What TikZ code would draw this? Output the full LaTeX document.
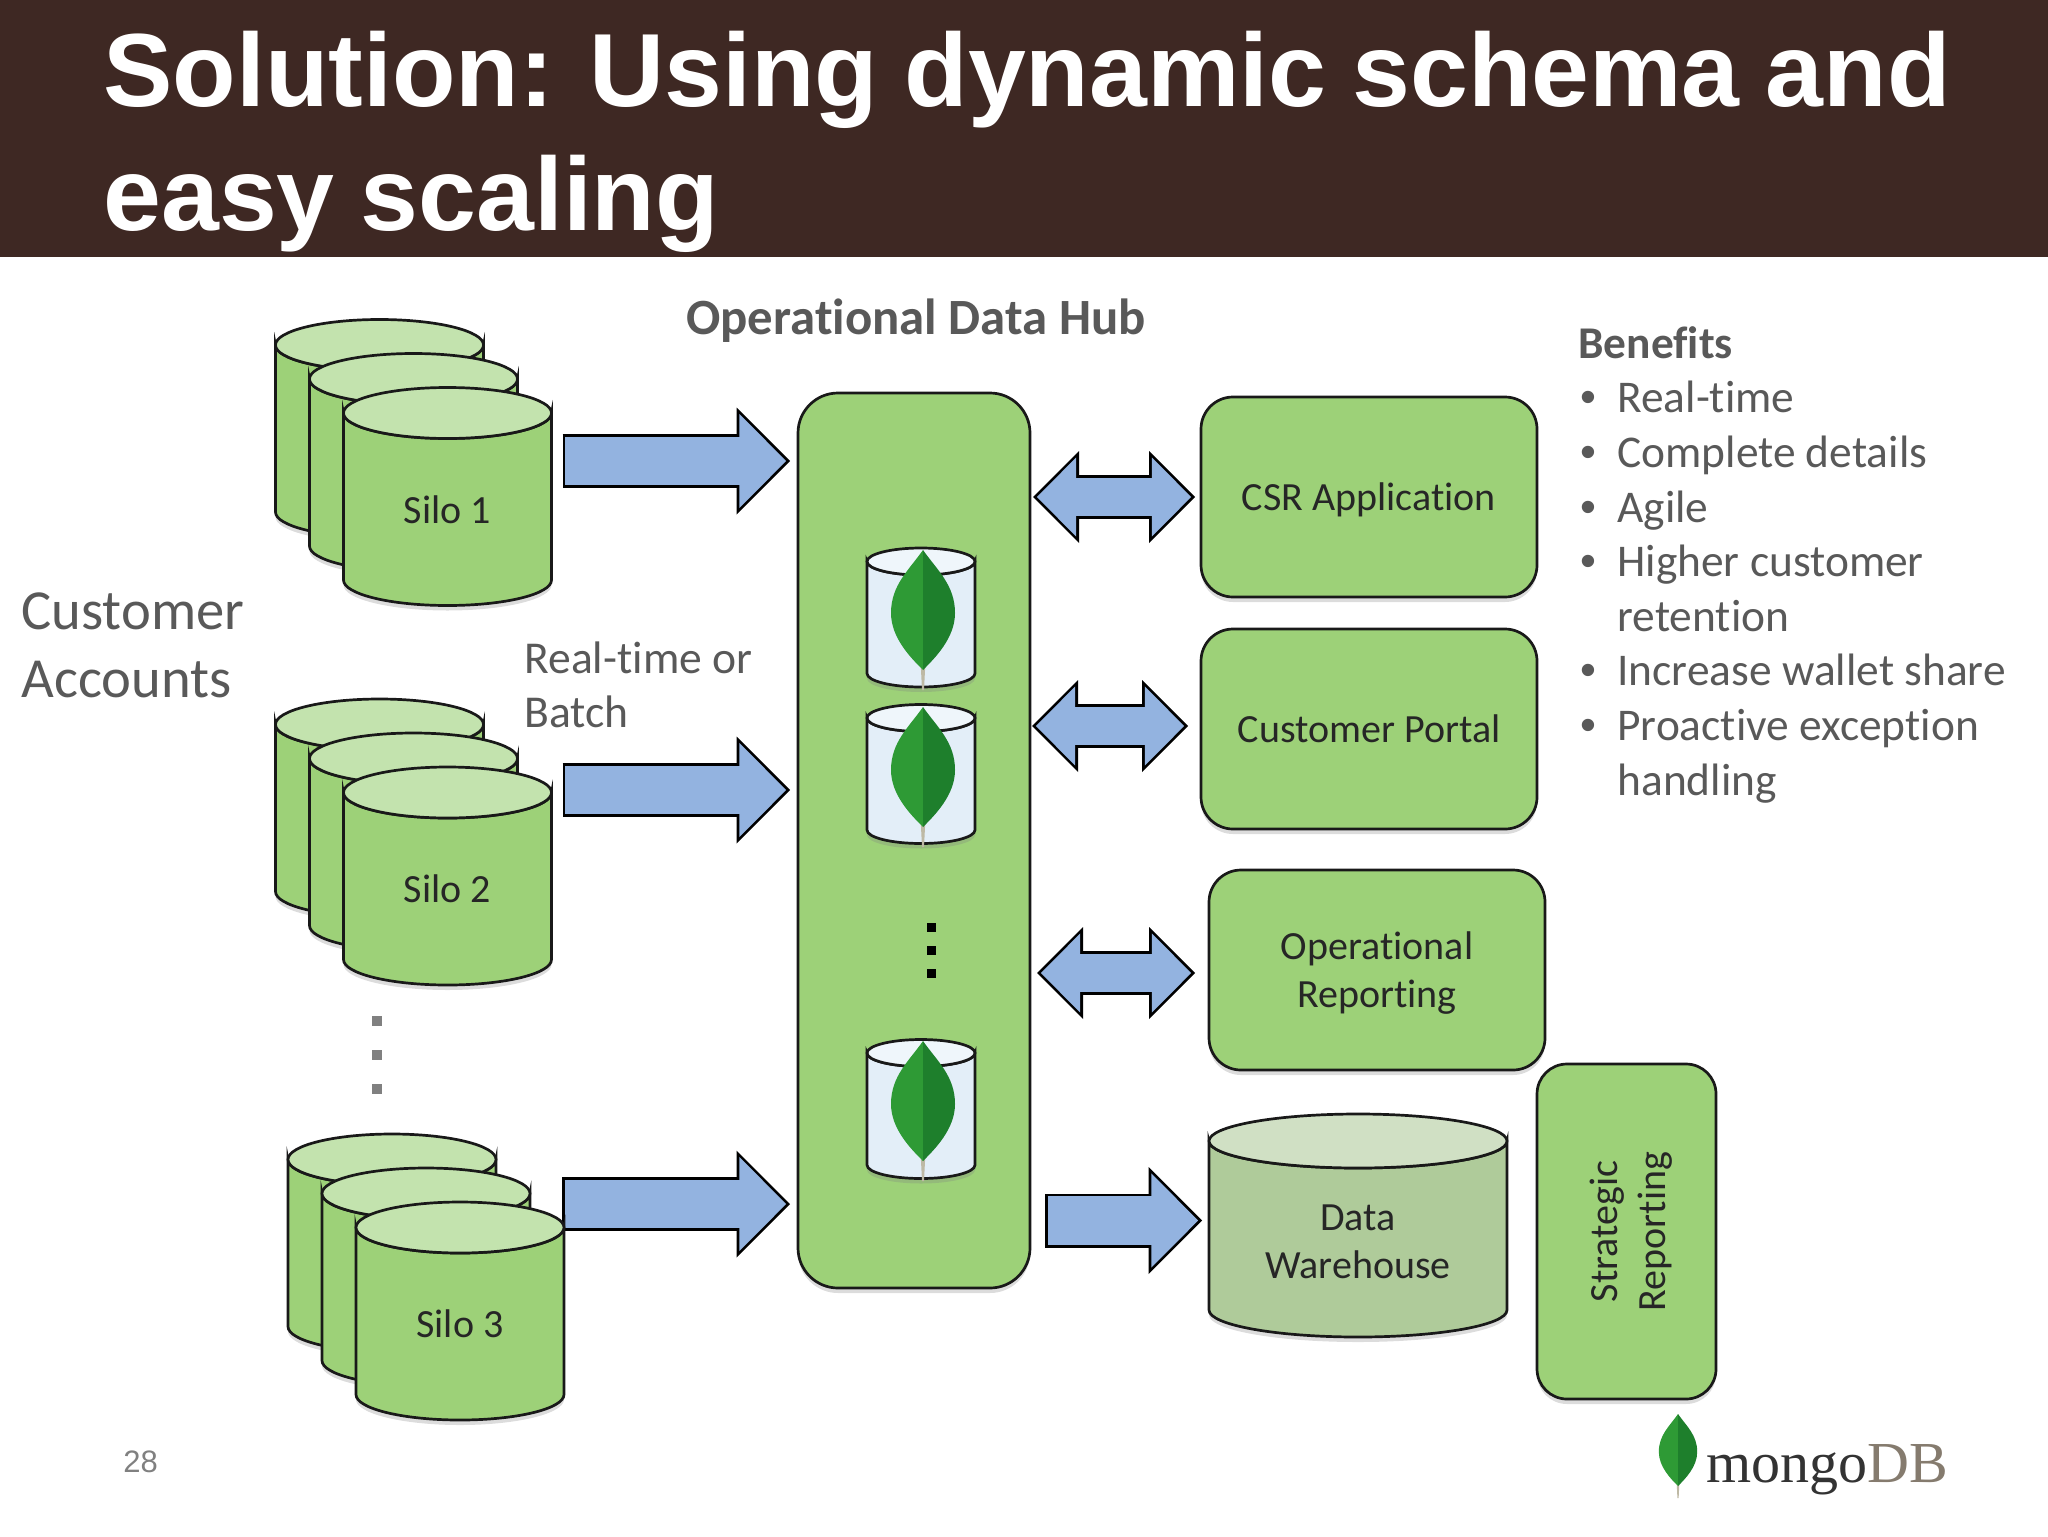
\documentclass[tikz,border=0pt]{standalone}
\usepackage{fontspec}
\setmainfont[Ligatures=NoCommon]{Carlito}
\newfontfamily\arialfont{Liberation Sans}
\newfontfamily\titlefont[WordSpace=0.9]{Liberation Sans}
\newfontfamily\logofont{Liberation Serif}
\usetikzlibrary{positioning}
\usetikzlibrary{arrows.meta}
\usetikzlibrary{shadows}
\usetikzlibrary{backgrounds}
\definecolor{bannerbrown}{RGB}{62,40,35}
\definecolor{boxgreen}{RGB}{157,209,120}
\definecolor{topgreen}{RGB}{195,227,174}
\definecolor{arrowblue}{RGB}{147,179,224}
\definecolor{dwbody}{RGB}{175,203,154}
\definecolor{dwtop}{RGB}{208,224,196}
\definecolor{minibody}{RGB}{227,238,248}
\definecolor{minitop}{RGB}{239,246,251}
\definecolor{textgrey}{RGB}{89,89,89}
\definecolor{leafleft}{RGB}{46,154,53}
\definecolor{leafright}{RGB}{30,127,44}
\definecolor{stemgrey}{RGB}{190,185,165}
\tikzset{
    softshadow/.style={drop shadow={opacity=0.28,shadow xshift=0pt,shadow yshift=-2.5pt}},
    cylline/.style={draw=black!90,line width=1.35pt},
    cyltext/.style={rectangle,inner sep=0pt,outer sep=0pt,align=center,text=black!85,font=\fontsize{20}{24}\selectfont},
    appbox/.style={rectangle,rounded corners=16pt,draw=black!90,line width=1.35pt,fill=boxgreen,outer sep=0pt,
        minimum width=168pt,minimum height=100pt,align=center,softshadow,text=black!85,font=\fontsize{20}{24}\selectfont},
    oneline/.style={text height=17.5pt,text depth=4pt},
    greytext/.style={text=textgrey,align=left,inner sep=0pt},
    onearrow/.style={
        preaction={draw=black,line width=27pt,shorten <=0pt,shorten >=0pt,-{Triangle[length=26.75pt,width=53.5pt,line width=0pt]}},
        draw=arrowblue,line width=24.3pt,shorten <=1.35pt,shorten >=1.91pt,
        -{Triangle[length=23.45pt,width=46.9pt,line width=0.8pt]}},
    twoarrow/.style={
        preaction={draw=black,line width=22pt,shorten <=0pt,shorten >=0pt,{Triangle[length=23pt,width=46pt,line width=0pt]}-{Triangle[length=23pt,width=46pt,line width=0pt]}},
        draw=arrowblue,line width=19.3pt,shorten <=1.91pt,shorten >=1.91pt,
        {Triangle[length=19.7pt,width=39.4pt,line width=0.8pt]}-{Triangle[length=19.7pt,width=39.4pt,line width=0.8pt]}},
    leaf/.pic={
        \fill[stemgrey] (-2.5,50) -- (2.5,50) -- (1,80) -- (-1,80) -- cycle;
        \fill[leafleft] (0,-60) .. controls (-14,-40) and (-32,-25) .. (-32,3) .. controls (-32,28) and (-12,48) .. (0,60) -- cycle;
        \fill[leafright] (0,-60) .. controls (14,-40) and (32,-25) .. (32,3) .. controls (32,28) and (12,48) .. (0,60) -- cycle;
    }
}
% name, centre, text, half width, half height, end radius, body colour, end colour
\newcommand{\dbcyl}[8]{
    \begin{scope}[shift={(#2)}]
        \draw[cylline,fill=#7,softshadow] (-#4,-#5+#6) -- (-#4,#5-#6) arc[start angle=180,end angle=0,x radius=#4,y radius=#6] -- (#4,-#5+#6) arc[start angle=0,end angle=180,x radius=#4,y radius=#6] -- cycle;
        \draw[cylline,fill=#8] (0,-#5+#6) ellipse[x radius=#4,y radius=#6];
        \node[cyltext,minimum width=#4*1pt,minimum height={(#5-#6/2)*1pt}] (#1) at (0,#6/2) {#3};
    \end{scope}
}
\newcommand{\silocyl}[3]{\dbcyl{#1}{#2}{#3}{104}{109}{25.5}{boxgreen}{topgreen}}
\newcommand{\minicyl}[2]{\dbcyl{#1}{#2}{}{54}{69.5}{13.5}{minibody}{minitop}}
\begin{document}
\begin{tikzpicture}[x=0.5pt,y=-0.5pt]
    \useasboundingbox (0,0) rectangle (2048,1536);
    \fill[bannerbrown] (0,0) rectangle (2048,257);
    \node[anchor=north west,inner sep=0pt,text=white,align=left,font=\titlefont\bfseries\fontsize{52}{62}\selectfont] (title) at (103,31) {Solution: Using dynamic schema and\\easy scaling};

    % silos, back to front
    \silocyl{silo1a}{379.5,428.5}{}
    \silocyl{silo1b}{413.5,462.5}{}
    \silocyl{silo1c}{447.5,496.5}{Silo 1}
    \silocyl{silo2a}{379.5,808}{}
    \silocyl{silo2b}{413.5,842}{}
    \silocyl{silo2c}{447.5,876}{Silo 2}
    \silocyl{silo3a}{392,1243}{}
    \silocyl{silo3b}{426,1277}{}
    \silocyl{silo3c}{460,1311}{Silo 3}
    \foreach \i/\y in {1/1021,2/1055,3/1089}
        \node[fill=black!50,inner sep=0pt,minimum size=5pt] (silodot\i) at (377,\y) {};

    % hub
    \node[appbox,rounded corners=20pt,minimum width=116pt,minimum height=447.5pt] (hub) at (914,840.5) {};
    \node[above=25.3pt of hub,greytext,font=\bfseries\fontsize{25.4}{28}\selectfont,xshift=1pt] (hubtitle) {Operational Data Hub};
    \minicyl{db1}{921,617.5}
    \minicyl{db2}{921,774}
    \minicyl{db3}{921,1109}
    \pic at (923,610) {leaf};
    \pic at (923,767) {leaf};
    \pic at (923,1101) {leaf};
    \foreach \i/\y in {1/927,2/950,3/973}
        \node[fill=black,inner sep=0pt,minimum size=4.5pt] (hubdot\i) at (931,\y) {};

    % right side
    \node[appbox,oneline] (csr) at (1369,497) {CSR Application};
    \node[appbox,oneline,below=16pt of csr] (portal) {Customer Portal};
    \node[appbox] (opreport) at (1377,970) {\rule{0pt}{17pt}Operational\\Reporting};
    \dbcyl{dw}{1358,1225.5}{\rule{0pt}{16pt}Data\\Warehouse}{149}{111.5}{27}{dwbody}{dwtop}
    \node[appbox,rotate=90,rounded corners=15pt,minimum width=167.5pt,minimum height=89.5pt] (strategic) at (1626.5,1231.5) {\rule{0pt}{18pt}Strategic\\Reporting};

    % flows
    \coordinate (s1out) at ([xshift=5.5pt]silo1c.east |- 0,461);
    \coordinate (s1in) at ([xshift=-4pt]hub.west |- s1out);
    \coordinate (s2out) at ([xshift=5.5pt]silo2c.east |- 0,790);
    \coordinate (s2in) at ([xshift=-4pt]hub.west |- s2out);
    \coordinate (s3out) at ([xshift=-1pt]silo3c.east |- 0,1204);
    \coordinate (s3in) at ([xshift=-4pt]hub.west |- s3out);
    \coordinate (csrhub) at ([xshift=1.5pt]hub.east |- csr.west);
    \coordinate (csrapp) at ([xshift=-3pt]csr.west);
    \coordinate (porthub) at ([xshift=1pt]hub.east |- 0,726);
    \coordinate (portapp) at ([xshift=-6.5pt]portal.west |- porthub);
    \coordinate (rephub) at ([xshift=3.5pt]hub.east |- 0,973);
    \coordinate (repapp) at ([xshift=-7pt]opreport.west |- rephub);
    \coordinate (dwhub) at ([xshift=7.5pt]hub.east |- 0,1220.5);
    \coordinate (dwin) at ([xshift=-3.5pt]dw.west |- dwhub);
    \begin{pgfonlayer}{background}
        \draw[onearrow] (s1out) -- (s1in);
        \draw[onearrow] (s2out) -- (s2in);
        \draw[onearrow] (s3out) -- (s3in);
        \draw[twoarrow] (csrhub) -- (csrapp);
        \draw[twoarrow] (porthub) -- (portapp);
        \draw[twoarrow] (rephub) -- (repapp);
        \draw[onearrow] (dwhub) -- (dwin);
    \end{pgfonlayer}

    % labels
    \node[greytext,anchor=north west,font=\fontsize{28.3}{34}\selectfont] (customer) at (21,592) {Customer\\Accounts};
    \node[greytext,anchor=north west,font=\fontsize{22.8}{27.3}\selectfont] (realtime) at (524,641) {Real-time or\\Batch};
    \node[greytext,anchor=north west,font=\fontsize{22.7}{27.3}\selectfont] (benefits) at (1578,326) {\textbf{Benefits}\\
        \makebox[19.5pt][l]{\hspace{1pt}{\arialfont •}}Real-time\\
        \makebox[19.5pt][l]{\hspace{1pt}{\arialfont •}}Complete details\\
        \makebox[19.5pt][l]{\hspace{1pt}{\arialfont •}}Agile\\
        \makebox[19.5pt][l]{\hspace{1pt}{\arialfont •}}Higher customer\\
        \hspace*{19.5pt}retention\\
        \makebox[19.5pt][l]{\hspace{1pt}{\arialfont •}}Increase wallet share\\
        \makebox[19.5pt][l]{\hspace{1pt}{\arialfont •}}Proactive exception\\
        \hspace*{19.5pt}handling};
    \node[anchor=base west,inner sep=0pt,text=black!50,font=\arialfont\fontsize{15.5}{18}\selectfont] (pagenum) at (123,1472) {28};
    \pic[scale=0.6] at (1678,1450) {leaf};
    \node[anchor=base west,inner sep=0pt,text=black!80,font=\logofont\fontsize{29}{32}\selectfont] (logo) at (1706,1482) {mongo\textcolor[RGB]{133,123,110}{DB}};
\end{tikzpicture}
\end{document}
